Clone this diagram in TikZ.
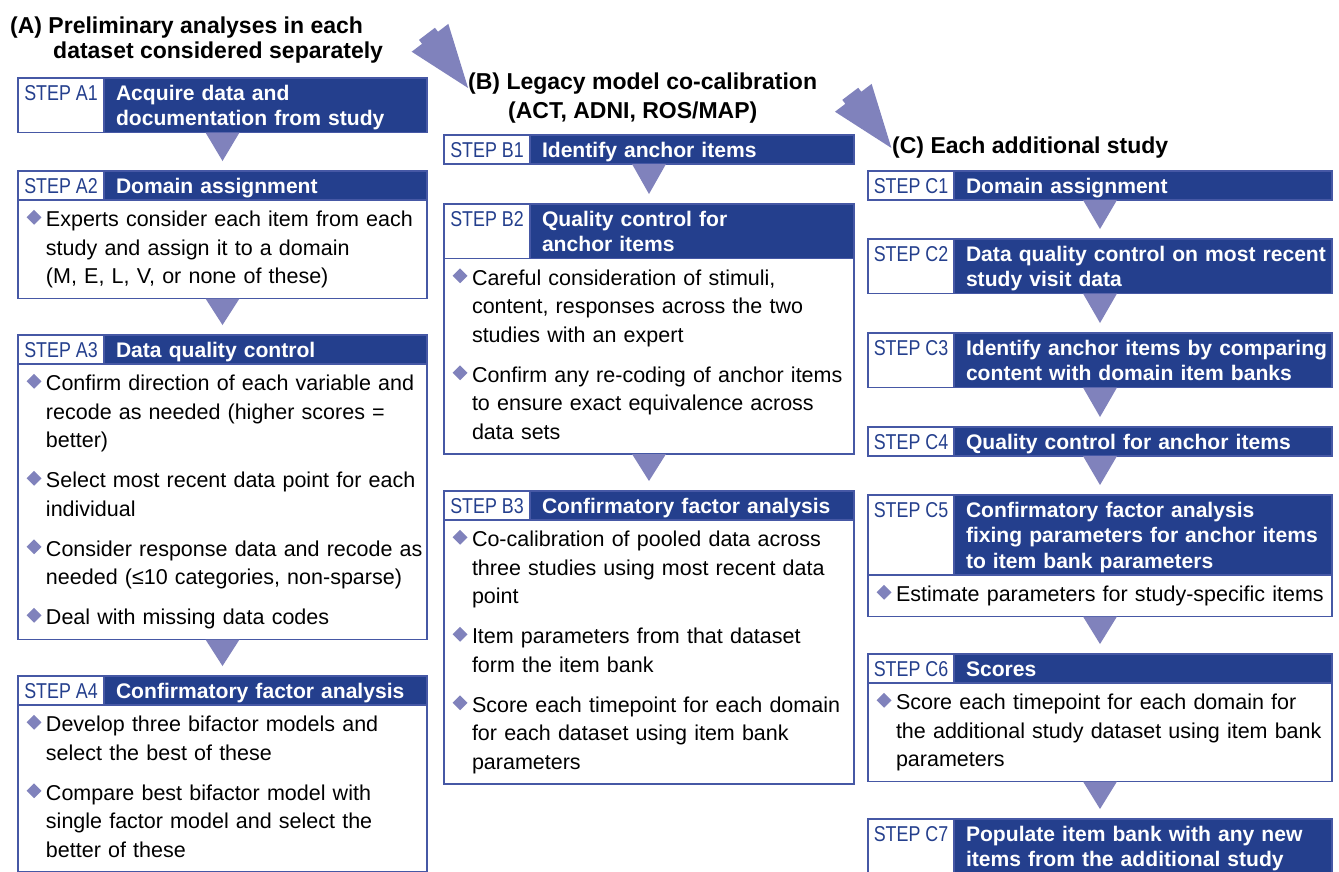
\documentclass[tikz,border=0pt]{standalone}
\usepackage{fontspec}
\setmainfont{Liberation Sans}
\newfontfamily\narrowfont[FakeStretch=0.83]{Liberation Sans}
\usepackage{graphicx}
\usetikzlibrary{positioning}
\definecolor{stepblue}{RGB}{36,63,141}
\definecolor{framec}{RGB}{70,88,165}
\definecolor{lav}{RGB}{128,130,188}
\newcommand\bstrut{\vrule height 20pt depth 8.5pt width 0pt}
\newcommand\hstrut{\vrule height 20.5pt depth 5pt width 0pt}
\newcommand\bul{\noindent\llap{\raisebox{4pt}{\rotatebox[origin=c]{45}{\textcolor{lav}{\rule{10.5pt}{10.5pt}}}}\hspace{4.5pt}}\bstrut}
\newcommand\nxt{\par\vspace{11.5pt}\bul}
\begin{document}
\begin{tikzpicture}[x=1pt, y=-1pt,
  stephead/.style={draw=framec, line width=1.1pt, fill=stepblue, text=white, anchor=north west,
    inner xsep=0pt, inner ysep=1.75pt, outer sep=0pt, font=\bfseries\fontsize{21.1}{25.5}\selectfont,
    execute at begin node={\raggedright\leftskip=98pt\rightskip=-30pt plus 1fil\relax\hstrut},
    execute at end node={\hstrut}},
  steplabel/.style={draw=framec, line width=1.1pt, fill=white, text=stepblue, anchor=north west,
    minimum width=86pt, inner xsep=0pt, inner ysep=1.75pt, outer sep=0pt,
    text height=20.5pt, text depth=5pt, font=\narrowfont\fontsize{21.5}{25.5}\selectfont},
  stepbody/.style={draw=framec, line width=1.1pt, fill=white, below=0pt of #1,
    inner xsep=0pt, inner ysep=6.5pt, outer sep=0pt, font=\fontsize{21.5}{28.5}\selectfont,
    execute at begin node={\raggedright\leftskip=28pt\rightskip=-20pt plus 1fil\relax},
    execute at end node={\bstrut}},
  colA/.style={text width=409pt}, colB/.style={text width=410pt}, colC/.style={text width=464pt},
  tri/.style={fill=lav},
  title/.style={anchor=base west, inner sep=0pt, font=\bfseries\fontsize{23}{25}\selectfont}]
\useasboundingbox (0,0) rectangle (1339,871);
\clip (0,0) rectangle (1339,871);
\fill[white] (0,0) rectangle (1339,871);

% titles
\node[title] (tA) at (10,33) {(A) Preliminary analyses in each};
\node[title] (tA2) at (53,58) {dataset considered separately};
\node[title] (tB) at (468,89) {(B) Legacy model co-calibration};
\node[title] (tB2) at (508,118) {(ACT, ADNI, ROS/MAP)};
\node[title] (tC) at (892,153) {(C) Each additional study};

% big arrows between the stages
\foreach \p in {(430,37.8), (853.3,97.8)} {
  \fill[lav, shift={\p}, rotate=-52.8] (63,0) -- (0,23) -- (0,10) -- (-5,10) -- (-5,-10) -- (0,-10) -- (0,-23) -- cycle;
}

% column A
\node[stephead, colA] (hA1) at (18,78) {Acquire data and\\documentation from study};
\node[steplabel, text depth=30.5pt] (lA1) at (hA1.north west) {STEP A1};

\node[stephead, colA] (hA2) at (18,171) {Domain assignment};
\node[steplabel] (lA2) at (hA2.north west) {STEP A2};
\node[stepbody=hA2, colA] (bA2) {\bul Experts consider each item from each\\study and assign it to a domain\\(M, E, L, V, or none of these)};

\node[stephead, colA] (hA3) at (18,335) {Data quality control};
\node[steplabel] (lA3) at (hA3.north west) {STEP A3};
\node[stepbody=hA3, colA] (bA3) {\bul Confirm direction of each variable and\\recode as needed (higher scores =\\better)
  \nxt Select most recent data point for each\\individual
  \nxt Consider response data and recode as\\needed (≤10 categories, non-sparse)
  \nxt Deal with missing data codes};

\node[stephead, colA] (hA4) at (18,676) {Confirmatory factor analysis};
\node[steplabel] (lA4) at (hA4.north west) {STEP A4};
\node[stepbody=hA4, colA] (bA4) {\bul Develop three bifactor models and\\select the best of these
  \nxt Compare best bifactor model with\\single factor model and select the\\better of these};

% column B
\node[stephead, colB] (hB1) at (444,135) {Identify anchor items};
\node[steplabel] (lB1) at (hB1.north west) {STEP B1};

\node[stephead, colB] (hB2) at (444,204) {Quality control for\\anchor items};
\node[steplabel, text depth=30.5pt] (lB2) at (hB2.north west) {STEP B2};
\node[stepbody=hB2, colB] (bB2) {\bul Careful consideration of stimuli,\\content, responses across the two\\studies with an expert
  \nxt Confirm any re-coding of anchor items\\to ensure exact equivalence across\\data sets};

\node[stephead, colB] (hB3) at (444,491) {Confirmatory factor analysis};
\node[steplabel] (lB3) at (hB3.north west) {STEP B3};
\node[stepbody=hB3, colB] (bB3) {\bul Co-calibration of pooled data across\\three studies using most recent data\\point
  \nxt Item parameters from that dataset\\form the item bank
  \nxt Score each timepoint for each domain\\for each dataset using item bank\\parameters};

% column C
\node[stephead, colC] (hC1) at (868,171) {Domain assignment};
\node[steplabel] (lC1) at (hC1.north west) {STEP C1};

\node[stephead, colC] (hC2) at (868,239) {Data quality control on most recent\\study visit data};
\node[steplabel, text depth=30.5pt] (lC2) at (hC2.north west) {STEP C2};

\node[stephead, colC] (hC3) at (868,333) {Identify anchor items by comparing\\content with domain item banks};
\node[steplabel, text depth=30.5pt] (lC3) at (hC3.north west) {STEP C3};

\node[stephead, colC] (hC4) at (868,427) {Quality control for anchor items};
\node[steplabel] (lC4) at (hC4.north west) {STEP C4};

\node[stephead, colC] (hC5) at (868,495) {Confirmatory factor analysis\\fixing parameters for anchor items\\to item bank parameters};
\node[steplabel, text depth=56pt] (lC5) at (hC5.north west) {STEP C5};
\node[stepbody=hC5, colC] (bC5) {\bul Estimate parameters for study-specific items};

\node[stephead, colC] (hC6) at (868,654) {Scores};
\node[steplabel] (lC6) at (hC6.north west) {STEP C6};
\node[stepbody=hC6, colC] (bC6) {\bul Score each timepoint for each domain for\\the additional study dataset using item bank\\parameters};

\node[stephead, colC] (hC7) at (868,819) {Populate item bank with any new\\items from the additional study};
\node[steplabel, text depth=30.5pt] (lC7) at (hC7.north west) {STEP C7};

% down arrows
\foreach \a/\b in {hA1/hA2, bA2/hA3, bA3/hA4, hB1/hB2, bB2/hB3, hC1/hC2, hC2/hC3, hC3/hC4, hC4/hC5, bC5/hC6, bC6/hC7} {
  \fill[tri] ([xshift=-17pt]\a.south) -- ([xshift=17pt]\a.south) -- ([yshift=10pt]\b.north) -- cycle;
}
\end{tikzpicture}
\end{document}
